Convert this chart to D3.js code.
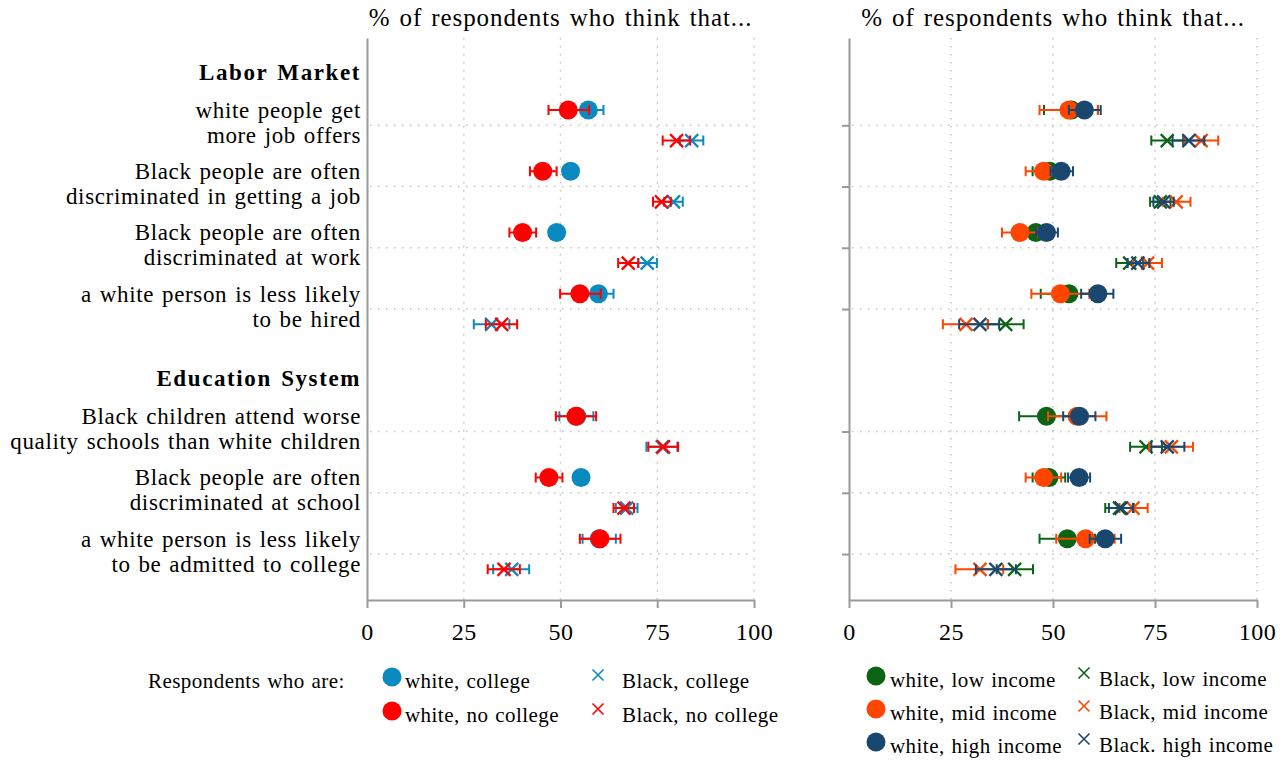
<!DOCTYPE html>
<html>
<head>
<meta charset="utf-8">
<script src="https://cdn.jsdelivr.net/npm/d3@7"></script>
<style>
  body { margin: 0; background: #fff; }
  svg { display: block; font-family: "Liberation Serif", serif; }
  .q-label { font-size: 23px; letter-spacing: 0.65px; word-spacing: 1.5px; }
  .section { font-size: 23px; font-weight: bold; letter-spacing: 1.6px; word-spacing: 2px; }
  .title { font-size: 25px; letter-spacing: 0.9px; word-spacing: 2px; }
  .legend { font-size: 21px; letter-spacing: 0.45px; word-spacing: 1.2px; }
</style>
</head>
<body>
<svg id="chart" width="1288" height="761"></svg>
<script>
const QUESTIONS = [
  ['white people get', 'more job offers'],
  ['Black people are often', 'discriminated in getting a job'],
  ['Black people are often', 'discriminated at work'],
  ['a white person is less likely', 'to be hired'],
  ['Black children attend worse', 'quality schools than white children'],
  ['Black people are often', 'discriminated at school'],
  ['a white person is less likely', 'to be admitted to college'],
];
const QUESTION_SECTION = [0, 0, 0, 0, 1, 1, 1];
const SECTIONS = ['Labor Market', 'Education System'];
const X_TICKS = [0, 25, 50, 75, 100];
const TITLE = '% of respondents who think that...';

// [mean, ci low, ci high] per question
const WHITE_COLLEGE    = [[57.2, 53.3, 61.1], [52.6, 50.8, 54.4], [49.0, 47.2, 50.8], [59.8, 55.7, 63.7], [54.2, 49.7, 58.5], [55.3, 53.5, 57.1], [60.0, 55.7, 64.3]];
const WHITE_NO_COLLEGE = [[52.0, 46.9, 57.4], [45.4, 42.1, 49.0], [40.2, 36.8, 43.7], [55.0, 49.9, 60.4], [54.0, 48.8, 59.2], [47.0, 43.6, 50.5], [60.2, 55.0, 65.5]];
const BLACK_COLLEGE    = [[83.9, 80.9, 86.9], [79.2, 76.8, 81.6], [72.4, 70.1, 74.9], [32.2, 27.6, 36.8], [76.3, 72.2, 80.2], [67.1, 64.3, 69.9], [37.4, 32.6, 41.9]];
const BLACK_NO_COLLEGE = [[80.0, 76.4, 83.5], [76.1, 73.9, 78.5], [67.5, 64.9, 70.1], [34.8, 30.7, 38.8], [76.6, 72.7, 80.4], [66.4, 63.7, 69.0], [35.4, 31.2, 39.5]];

const WHITE_LOW  = [[54.5, 47.8, 61.0], [49.2, 45.0, 53.6], [45.8, 42.6, 49.0], [53.9, 47.0, 60.6], [48.4, 41.7, 55.1], [49.0, 45.0, 53.0], [53.5, 46.7, 60.3]];
const WHITE_MID  = [[53.9, 46.7, 61.0], [47.7, 43.3, 52.0], [41.9, 37.5, 46.2], [51.8, 44.7, 58.9], [55.9, 48.8, 63.1], [47.7, 43.3, 52.0], [58.0, 50.8, 65.1]];
const WHITE_HIGH = [[57.7, 53.9, 61.7], [52.0, 49.4, 54.9], [48.4, 45.9, 51.2], [61.0, 56.9, 64.8], [56.5, 52.5, 60.4], [56.4, 53.7, 59.1], [62.8, 59.0, 66.7]];
const BLACK_LOW  = [[78.0, 74.1, 81.9], [76.3, 73.8, 78.8], [68.8, 65.5, 72.1], [38.4, 34.0, 42.8], [72.8, 68.9, 76.7], [66.3, 62.8, 69.8], [40.6, 36.2, 45.1]];
const BLACK_MID  = [[86.3, 82.2, 90.5], [80.2, 76.9, 83.7], [73.2, 69.6, 76.7], [28.7, 23.0, 34.1], [79.0, 73.6, 84.3], [69.6, 66.3, 73.2], [32.1, 26.1, 37.8]];
const BLACK_HIGH = [[83.3, 79.3, 87.1], [77.1, 74.6, 79.6], [70.8, 68.3, 73.6], [32.1, 27.0, 36.8], [78.0, 74.1, 82.2], [66.7, 63.7, 69.6], [36.0, 31.1, 40.9]];

const C_BLUE = '#0b8ac0', C_RED = '#ff0000';
const C_GREEN = '#0a6414', C_ORANGE = '#ff4500', C_NAVY = '#1a476f';
const AXIS = '#9a9a9a', GRID = '#c4c4c4';

const LEFT_SERIES = [
  { label: 'white, college',    color: C_BLUE, shape: 'circle', row: 0, data: WHITE_COLLEGE },
  { label: 'white, no college', color: C_RED,  shape: 'circle', row: 0, data: WHITE_NO_COLLEGE },
  { label: 'Black, college',    color: C_BLUE, shape: 'x',      row: 1, data: BLACK_COLLEGE },
  { label: 'Black, no college', color: C_RED,  shape: 'x',      row: 1, data: BLACK_NO_COLLEGE },
];
const RIGHT_SERIES = [
  { label: 'white, low income',  color: C_GREEN,  shape: 'circle', row: 0, data: WHITE_LOW },
  { label: 'white, mid income',  color: C_ORANGE, shape: 'circle', row: 0, data: WHITE_MID },
  { label: 'white, high income', color: C_NAVY,   shape: 'circle', row: 0, data: WHITE_HIGH },
  { label: 'Black, low income',  color: C_GREEN,  shape: 'x',      row: 1, data: BLACK_LOW },
  { label: 'Black, mid income',  color: C_ORANGE, shape: 'x',      row: 1, data: BLACK_MID },
  { label: 'Black. high income', color: C_NAVY,   shape: 'x',      row: 1, data: BLACK_HIGH },
];

const svg = d3.select('#chart');
const slot = i => 2 * i + 2 * QUESTION_SECTION[i];
const y = d3.scaleLinear().domain([-2.35, 16.0]).range([38, 600]);
const gridSlots = QUESTIONS.map((q, i) => slot(i) + 0.5);

const xLeft = d3.scaleLinear().domain([0, 100]).range([367, 754]);
const xRight = d3.scaleLinear().domain([0, 100]).range([849, 1257]);

function xMark(g, cx, cy, r, color, w) {
  g.append('path')
    .attr('d', `M${cx - r},${cy - r}L${cx + r},${cy + r}M${cx - r},${cy + r}L${cx + r},${cy - r}`)
    .attr('stroke', color).attr('stroke-width', w).attr('fill', 'none');
}

function drawPanel(x, series, yTicks) {
  const g = svg.append('g');
  const [x0, x1] = x.range();

  g.append('text').attr('class', 'title')
    .attr('x', (x0 + x1) / 2).attr('y', 26)
    .attr('text-anchor', 'middle')
    .text(TITLE);

  // dotted grid
  g.selectAll('.vgrid').data(X_TICKS.filter(t => t > 0)).join('line')
    .attr('x1', d => x(d)).attr('x2', d => x(d))
    .attr('y1', y.range()[0]).attr('y2', y.range()[1])
    .attr('stroke', GRID).attr('stroke-width', 1.5).attr('stroke-dasharray', '1.5,6.5');
  g.selectAll('.hgrid').data(gridSlots).join('line')
    .attr('x1', x0 + 3).attr('x2', x1)
    .attr('y1', d => y(d)).attr('y2', d => y(d))
    .attr('stroke', GRID).attr('stroke-width', 1.5).attr('stroke-dasharray', '1.5,6.5');

  const ay = g.append('g').attr('transform', `translate(${x0},0)`)
    .call(d3.axisLeft(y).tickValues(yTicks ? gridSlots : []).tickFormat('')
      .tickSize(7).tickSizeOuter(0));
  ay.selectAll('path, line').attr('stroke', AXIS).attr('stroke-width', 2);

  const ax = g.append('g').attr('transform', `translate(0,${y.range()[1]})`)
    .call(d3.axisBottom(x).tickValues(X_TICKS).tickFormat(d3.format('d'))
      .tickSize(8).tickSizeOuter(0).tickPadding(15));
  ax.selectAll('path, line').attr('stroke', AXIS).attr('stroke-width', 2);
  ax.attr('font-family', null).attr('font-size', 24);
  ax.selectAll('text').attr('fill', '#000').attr('letter-spacing', '0.5px');

  series.forEach(s => {
    const sg = g.append('g');
    s.data.forEach((d, i) => {
      const cy = y(slot(i) + s.row);
      if (s.shape === 'circle') {
        sg.append('circle').attr('cx', x(d[0])).attr('cy', cy).attr('r', 9.5).attr('fill', s.color);
      } else {
        xMark(sg, x(d[0]), cy, 6.5, s.color, 2.2);
      }
      sg.append('path')
        .attr('d', `M${x(d[1])},${cy}H${x(d[2])}M${x(d[1])},${cy - 5}V${cy + 5}M${x(d[2])},${cy - 5}V${cy + 5}`)
        .attr('stroke', s.color).attr('stroke-width', 2).attr('fill', 'none');
    });
  });
}

// question labels and section headers
const labels = svg.append('g').attr('text-anchor', 'end');
SECTIONS.forEach((name, k) => {
  const first = QUESTION_SECTION.indexOf(k);
  labels.append('text').attr('class', 'section')
    .attr('x', 361).attr('y', y(slot(first) - 1.25) + 8)
    .text(name);
});
QUESTIONS.forEach((lines, i) => {
  lines.forEach((line, j) => {
    labels.append('text').attr('class', 'q-label')
      .attr('x', 361).attr('y', y(slot(i)) + 8 + j * 25)
      .text(line);
  });
});

drawPanel(xLeft, LEFT_SERIES, false);
drawPanel(xRight, RIGHT_SERIES, true);

// legends
const leg = svg.append('g');
leg.append('text').attr('class', 'legend').attr('x', 148).attr('y', 688).text('Respondents who are:');

function legendItem(s, cx, cy, gap) {
  if (s.shape === 'circle') {
    leg.append('circle').attr('cx', cx).attr('cy', cy).attr('r', 9.5).attr('fill', s.color);
  } else {
    xMark(leg, cx, cy, 5.5, s.color, 1.6);
  }
  leg.append('text').attr('class', 'legend')
    .attr('x', cx + gap).attr('y', cy + (s.shape === 'circle' ? 11 : 13))
    .text(s.label);
}

LEFT_SERIES.forEach((s, k) => {
  legendItem(s, s.row ? 598 : 392, (s.row ? 675 : 677) + (k % 2) * 34, s.row ? 24 : 13);
});
RIGHT_SERIES.forEach((s, k) => {
  legendItem(s, s.row ? 1084 : 876, (s.row ? 673 : 676) + (k % 3) * 33, s.row ? 15 : 14);
});
</script>
</body>
</html>
